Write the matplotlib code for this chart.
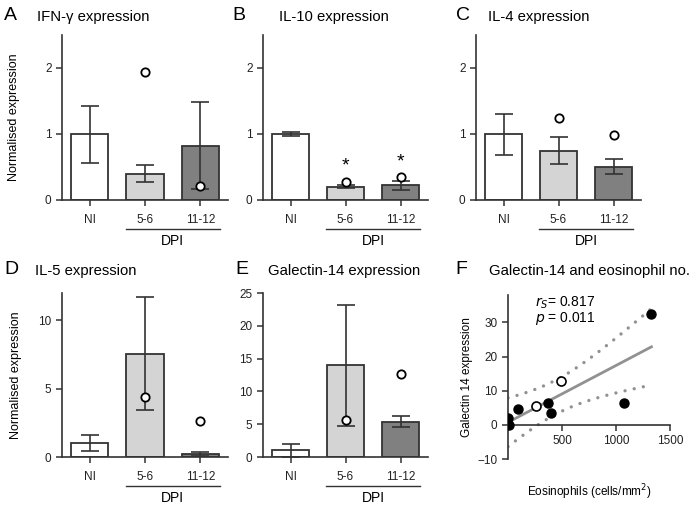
import matplotlib
matplotlib.use("Agg")
import matplotlib.pyplot as plt
import matplotlib.transforms as mtransforms
import numpy as np

plt.rcParams["font.family"] = ["Liberation Sans", "DejaVu Sans"]

# ---- data ----
groups = ["NI", "5-6", "11-12"]

ifng_mean = [1.0, 0.40, 0.82]
ifng_lo = [0.56, 0.27, 0.16]
ifng_hi = [1.43, 0.53, 1.48]
ifng_pt = [np.nan, 1.94, 0.21]

il10_mean = [1.0, 0.20, 0.22]
il10_lo = [0.97, 0.18, 0.15]
il10_hi = [1.03, 0.22, 0.29]
il10_pt = [np.nan, 0.28, 0.35]
il10_star = [False, True, True]

il4_mean = [1.0, 0.75, 0.50]
il4_lo = [0.68, 0.54, 0.39]
il4_hi = [1.31, 0.96, 0.62]
il4_pt = [np.nan, 1.25, 0.98]

il5_mean = [1.0, 7.56, 0.22]
il5_lo = [0.44, 3.46, 0.05]
il5_hi = [1.58, 11.68, 0.39]
il5_pt = [np.nan, 4.37, 2.63]

gal_mean = [1.0, 13.95, 5.4]
gal_lo = [0.0, 4.79, 4.5]
gal_hi = [2.0, 23.2, 6.3]
gal_pt = [np.nan, 5.6, 12.7]

# panel F
eos_filled = [0, 9, 89, 367, 394, 1076, 1328]
gal_filled = [2.05, 0.0, 4.6, 6.36, 3.34, 6.36, 32.4]
eos_open = [260, 495]
gal_open = [5.57, 12.8]

bar_colors = ["white", "#d4d4d4", "#808080"]
dark = "#333333"

W, H = 692, 508
fig = plt.figure(figsize=(W / 100, H / 100), dpi=100)


def px_axes(left, top, right, bottom):
    return fig.add_axes([left / W, 1 - bottom / H, (right - left) / W, (bottom - top) / H])


def style_axes(ax):
    for s in ["top", "right"]:
        ax.spines[s].set_visible(False)
    for s in ["left", "bottom"]:
        ax.spines[s].set_linewidth(1.2)
        ax.spines[s].set_color(dark)
    ax.tick_params(direction="out", length=4, width=1.1, color=dark,
                   labelsize=8.5, labelcolor="#222222")


def bar_panel(ax, mean, lo, hi, pts, ymax, yticks, stars=None):
    x = np.arange(len(groups))
    ax.bar(x, mean, width=0.67, color=bar_colors, edgecolor=dark, linewidth=1.3, zorder=2)
    yerr = [np.array(mean) - np.array(lo), np.array(hi) - np.array(mean)]
    ax.errorbar(x, mean, yerr=yerr, fmt="none", ecolor=dark, elinewidth=1.2,
                capsize=6.5, capthick=1.2, zorder=3)
    ax.plot(x, pts, "o", mfc="white", mec="black", mew=1.3, ms=6, zorder=4,
            linestyle="none")
    if stars:
        for i, s in enumerate(stars):
            if s:
                ax.text(x[i], pts[i] + 0.1, "*", ha="center", va="bottom",
                        fontsize=14, color="black")
    ax.set_xlim(-0.5, 2.5)
    ax.set_ylim(0, ymax)
    ax.set_yticks(yticks)
    ax.set_xticks(x)
    ax.set_xticklabels(groups)
    ax.tick_params(axis="x", length=5, pad=6)
    style_axes(ax)
    # DPI bracket under the infected groups
    trans = mtransforms.blended_transform_factory(ax.transData, ax.transAxes)
    ax.plot([0.65, 2.35], [-0.175, -0.175], color=dark, lw=1.0,
            transform=trans, clip_on=False)
    ax.text(1.5, -0.25, "DPI", ha="center", va="center", fontsize=10,
            transform=trans)


axA = px_axes(62, 35, 228, 200)
bar_panel(axA, ifng_mean, ifng_lo, ifng_hi, ifng_pt, 2.5, [0, 1, 2])
axA.set_ylabel("Normalised expression", fontsize=9, labelpad=18)

axB = px_axes(263, 35, 428, 200)
bar_panel(axB, il10_mean, il10_lo, il10_hi, il10_pt, 2.5, [0, 1, 2], stars=il10_star)

axC = px_axes(476, 35, 641, 200)
bar_panel(axC, il4_mean, il4_lo, il4_hi, il4_pt, 2.5, [0, 1, 2])

axD = px_axes(62, 293, 228, 457)
bar_panel(axD, il5_mean, il5_lo, il5_hi, il5_pt, 12, [0, 5, 10])
axD.set_ylabel("Normalised expression", fontsize=9, labelpad=12)

axE = px_axes(263, 293, 428, 457)
bar_panel(axE, gal_mean, gal_lo, gal_hi, gal_pt, 25, [0, 5, 10, 15, 20, 25])

# ---- panel F: correlation ----
axF = px_axes(508, 295, 670, 459)
xs = np.array(eos_filled + eos_open, dtype=float)
ys = np.array(gal_filled + gal_open, dtype=float)
slope, icpt = np.polyfit(xs, ys, 1)
n = len(xs)
resid = ys - (slope * xs + icpt)
s = np.sqrt(np.sum(resid ** 2) / (n - 2))
sxx = np.sum((xs - xs.mean()) ** 2)
xline = np.linspace(xs.min(), xs.max(), 100)
yline = slope * xline + icpt
half = 2.365 * s * np.sqrt(1 / n + (xline - xs.mean()) ** 2 / sxx)

axF.plot(xline, yline, color="#919191", lw=2, zorder=2)
for band in (yline + half, yline - half):
    axF.plot(xline, band, color="#919191", lw=2.4, linestyle=(0, (0.01, 2.8)),
             dash_capstyle="round", zorder=2)
axF.plot(eos_filled, gal_filled, "o", color="black", ms=6.5, zorder=3)
axF.plot(eos_open, gal_open, "o", mfc="white", mec="black", mew=1.2, ms=6.5, zorder=3)
axF.text(248, 35.7, "$r_S$= 0.817", fontsize=10, va="center")
axF.text(248, 31.0, "$p$ = 0.011", fontsize=10, va="center")

axF.set_xlim(0, 1500)
axF.set_ylim(-10, 38)
axF.spines["bottom"].set_position(("data", 0))
axF.set_xticks([500, 1000, 1500])
axF.set_yticks([-10, 0, 10, 20, 30])
style_axes(axF)
axF.set_ylabel("Galectin 14 expression", fontsize=8.5, labelpad=3)
axF.text(0.5, -0.2, "Eosinophils (cells/mm$^2$)", transform=axF.transAxes,
         ha="center", va="center", fontsize=8.5)

# ---- panel letters and titles ----
letters = [("A", 4, 16, 37, "IFN-γ expression"),
           ("B", 232, 16, 279, "IL-10 expression"),
           ("C", 456, 16, 488, "IL-4 expression"),
           ("D", 4, 270, 35, "IL-5 expression"),
           ("E", 235, 270, 268, "Galectin-14 expression"),
           ("F", 455, 270, 489, "Galectin-14 and eosinophil no.")]
for let, lx, ly, tx, title in letters:
    fig.text(lx / W, 1 - ly / H, let, fontsize=14, va="center", ha="left")
    fig.text(tx / W, 1 - (ly + 1) / H, title, fontsize=10.7, va="center", ha="left")

fig.savefig("out.png", dpi=100)
